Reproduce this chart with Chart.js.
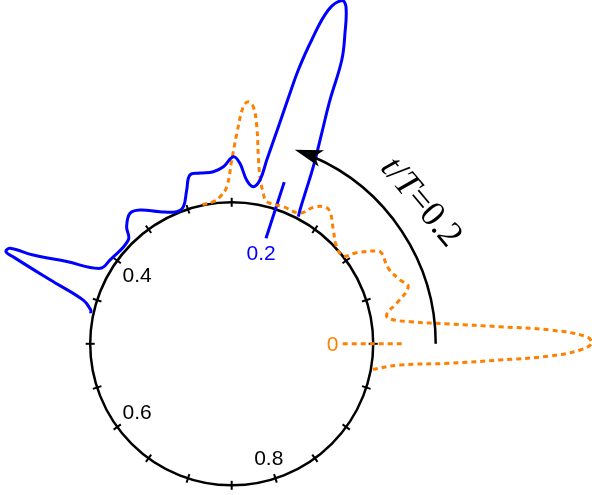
<!DOCTYPE html>
<html><head><meta charset="utf-8">
<script src="https://cdn.jsdelivr.net/npm/chart.js@4.4.1/dist/chart.umd.min.js"></script>
<style>html,body{margin:0;padding:0;background:#fff;}#wrap{width:592px;height:495px;}</style>
</head><body><div id="wrap"><canvas id="c" width="592" height="495"></canvas></div>
<script>
// ring geometry (data units = screen px, origin at ring centre)
const ringRadius = 141.5;
const viewX = [-231.7, 360.3];
const viewY = [-151.2, 343.8];

// t/T = 0 density, radial offset from ring vs polar angle (deg)
const orangeAngles  = [-10.25,-7.18,-5.1,-3.46,-2.2,-1.02,0.08,1.15,2.48,3.65,5.18,7.07,9.25,11.1,13.8,17.9,20.8,25.7,31.1,32.4,36.1,38.2,42.8,48.2,53.3,55.8,59.1,62.4,69.4,76.2,78.1,80.4,81.9,83.4,84.8,86.1,87.2,88.6,90,91.8,94.5,97.4,102.9];
const orangeOffsets = [1.8,28,77.7,127,177,207,218.5,213.6,177,127,77.7,38,17,17,28.4,44,38.5,32.4,33.7,31.8,13,0.5,1.5,11,23,24,17.5,6,5,5,12,28,47.5,77,96.6,101,96,69,42,15.7,6,1.8,0.9];

// t/T = 0.2 density
const blueAngles  = [62.35,62.96,64.0,65.26,66.85,68.04,68.8,69.96,71.27,72.2,73.86,75.25,76.33,76.98,77.8,79.2,80.2,82.2,84.8,87.4,89.5,92.7,96.1,100.5,103.9,106.3,109.4,112.6,118.5,124.4,127.9,131.9,134.9,145.5,150.2,153.5,155.9,156.7,157.8,158.3,160.6,163.6,166.5,167.8];
const blueOffsets = [2,8.7,25.9,53.5,87.4,121.4,162.9,189,214.4,219,206,172.7,140.3,112.8,82.4,45.6,24.7,17.1,23,39.2,45.6,35.8,31.6,32.1,32.4,18.8,3.9,1.6,8.8,20.7,24,15.8,5,6.3,10.3,42.8,75.9,99.9,102.3,93.6,51.1,13.2,3.5,2.8];

// phase ticks and labels (fraction of period -> angle)
const tickCount = 20;
const labelPhases = [0, 0.2, 0.4, 0.6, 0.8];
const labelTexts  = ['0', '0.2', '0.4', '0.6', '0.8'];
const labelRadii  = [101, 95, 117, 117, 120];
const labelColors = ['#FF8000', '#0000FF', '#000000', '#000000', '#000000'];
const markerPhases = [0, 0.2];
const markerRange = [111, 170];
const arrowPhase = 0.2;
const arrowRadius = 204;
const annotation = ['t', '/', 'T', '=0.2'];

const deg = Math.PI / 180;
function polar(a, r) { return { x: r * Math.cos(a * deg), y: r * Math.sin(a * deg) }; }
function curve(angles, offs) { return angles.map((a, i) => polar(a, ringRadius + offs[i])); }
function marker(ph) { const a = ph * 360; return [polar(a, markerRange[0]), polar(a, markerRange[1])]; }

const ringPlugin = {
  id: 'ring',
  beforeDatasetsDraw(chart) {
    const ctx = chart.ctx, xs = chart.scales.x, ys = chart.scales.y;
    const cx = xs.getPixelForValue(0), cy = ys.getPixelForValue(0);
    const R = xs.getPixelForValue(ringRadius) - cx;
    ctx.save();
    ctx.strokeStyle = '#000'; ctx.lineWidth = 2.5;
    ctx.beginPath(); ctx.arc(cx, cy, R, 0, Math.PI * 2); ctx.stroke();
    ctx.lineWidth = 2;
    for (let k = 0; k < tickCount; k++) {
      const a = k * 360 / tickCount * deg;
      ctx.beginPath();
      ctx.moveTo(cx + (R - 4.5) * Math.cos(a), cy - (R - 4.5) * Math.sin(a));
      ctx.lineTo(cx + (R + 4.5) * Math.cos(a), cy - (R + 4.5) * Math.sin(a));
      ctx.stroke();
    }
    ctx.font = '21px "Liberation Sans", Arial, sans-serif';
    ctx.textAlign = 'center'; ctx.textBaseline = 'middle';
    labelPhases.forEach((ph, i) => {
      const a = ph * 360 * deg;
      ctx.fillStyle = labelColors[i];
      ctx.fillText(labelTexts[i], cx + labelRadii[i] * Math.cos(a), cy - labelRadii[i] * Math.sin(a) + 1);
    });
    ctx.restore();
  },
  afterDatasetsDraw(chart) {
    const ctx = chart.ctx, xs = chart.scales.x, ys = chart.scales.y;
    const cx = xs.getPixelForValue(0), cy = ys.getPixelForValue(0);
    const Ra = xs.getPixelForValue(arrowRadius) - cx;
    const end = arrowPhase * 360;
    ctx.save();
    ctx.strokeStyle = '#000'; ctx.fillStyle = '#000'; ctx.lineWidth = 2.5;
    ctx.beginPath(); ctx.arc(cx, cy, Ra, 0, -(end - 5) * deg, true); ctx.stroke();
    // arrow head
    const ta = end * deg;
    const tip = { x: cx + Ra * Math.cos(ta), y: cy - Ra * Math.sin(ta) };
    const back = { x: Math.sin(ta), y: Math.cos(ta) };   // direction back along arc (screen)
    const perp = { x: -back.y, y: back.x };
    const L = 28, W = 8.5, N = 21;
    ctx.beginPath();
    ctx.moveTo(tip.x, tip.y);
    ctx.lineTo(tip.x + back.x * L + perp.x * W, tip.y + back.y * L + perp.y * W);
    ctx.lineTo(tip.x + back.x * N, tip.y + back.y * N);
    ctx.lineTo(tip.x + back.x * L - perp.x * W, tip.y + back.y * L - perp.y * W);
    ctx.closePath(); ctx.fill();
    // label
    const la = 36.8 * deg, lr = 236;
    ctx.translate(cx + lr * Math.cos(la), cy - lr * Math.sin(la));
    ctx.rotate(50 * deg);
    const fonts = ['italic 36px "Liberation Serif", serif', '36px "Liberation Serif", serif', 'italic 36px "Liberation Serif", serif', '36px "Liberation Serif", serif'];
    let widths = annotation.map((s, i) => { ctx.font = fonts[i]; return ctx.measureText(s).width; });
    const total = widths.reduce((a, b) => a + b, 0);
    let x = -total / 2;
    ctx.textBaseline = 'middle'; ctx.textAlign = 'left';
    annotation.forEach((s, i) => { ctx.font = fonts[i]; ctx.fillText(s, x, 0); x += widths[i]; });
    ctx.restore();
  }
};

const common = { showLine: true, pointRadius: 0, fill: false, clip: false, borderWidth: 3 };
new Chart(document.getElementById('c'), {
  type: 'scatter',
  data: { datasets: [
    Object.assign({ label: 't/T=0.2', data: curve(blueAngles, blueOffsets), borderColor: '#0000FF', tension: 0.4 }, common),
    Object.assign({ label: 't/T=0', data: curve(orangeAngles, orangeOffsets), borderColor: '#FF8000', borderDash: [5, 4], tension: 0.4 }, common),
    Object.assign({ label: 'm0', data: marker(markerPhases[0]), borderColor: '#FF8000', borderDash: [5, 4] }, common),
    Object.assign({ label: 'm1', data: marker(markerPhases[1]), borderColor: '#0000FF' }, common)
  ]},
  options: {
    responsive: false, animation: false, devicePixelRatio: 1,
    layout: { padding: 0 },
    plugins: { legend: { display: false }, tooltip: { enabled: false } },
    scales: {
      x: { type: 'linear', min: viewX[0], max: viewX[1], display: false },
      y: { type: 'linear', min: viewY[0], max: viewY[1], display: false }
    }
  },
  plugins: [ringPlugin]
});
</script></body></html>
